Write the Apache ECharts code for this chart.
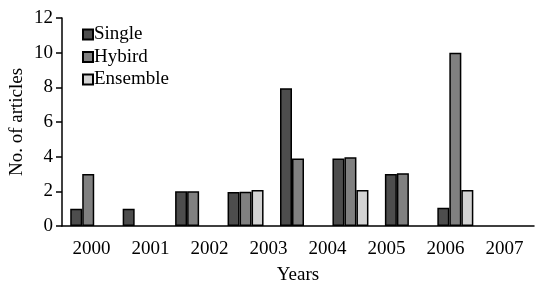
<!DOCTYPE html>
<html>
<head>
<meta charset="utf-8">
<script src="https://cdn.jsdelivr.net/npm/echarts@6/dist/echarts.min.js"></script>
<style>
  html, body { margin: 0; padding: 0; background: #fff; }
  #chart { width: 535px; height: 283px; }
</style>
</head>
<body>
<div id="chart"></div>
<script>
// axis labels (8) and bar slots (9, last one empty, like the original Excel chart)
var yearLabels = ['2000', '2001', '2002', '2003', '2004', '2005', '2006', '2007'];
var barSlots = ['s0', 's1', 's2', 's3', 's4', 's5', 's6', 's7', 's8'];

// null = no bar in that slot
var single   = [1, 1, 2, 1.96, 7.95, 3.9, 3, 1.05, null];
var hybird   = [3, null, 2, 1.98, 3.9, 3.96, 3.05, 10, null];
var ensemble = [null, null, null, 2.07, null, 2.07, null, 2.07, null];

var font = 'Liberation Serif';
var fs = 19;

var chart = echarts.init(document.getElementById('chart'));

function barSeries(name, data, color) {
  return {
    name: name,
    type: 'bar',
    xAxisIndex: 1,
    data: data,
    barWidth: 12,
    barGap: '0%',
    itemStyle: { color: color, borderColor: '#000', borderWidth: 1.5 }
  };
}

var option = {
  backgroundColor: '#fff',
  animation: false,
  textStyle: { fontFamily: font },
  grid: { left: 62, right: 1, top: 18, bottom: 57, outerBoundsMode: 'none', containLabel: false },
  legend: {
    orient: 'vertical',
    left: 82,
    top: 25,
    padding: 0,
    itemWidth: 10,
    itemHeight: 10,
    itemGap: 3.5,
    icon: 'rect',
    data: ['Single', 'Hybird', 'Ensemble'],
    textStyle: { fontFamily: font, fontSize: fs, color: '#000', lineHeight: 19, padding: [0, 0, 0, -4] }
  },
  xAxis: [{
    type: 'category',
    data: yearLabels,
    name: 'Years',
    nameLocation: 'middle',
    nameGap: 40,
    nameTextStyle: { fontFamily: font, fontSize: fs, color: '#000' },
    axisLine: { lineStyle: { color: '#000', width: 1.5 } },
    axisTick: { length: 7, lineStyle: { color: '#000', width: 1.5 } },
    axisLabel: { fontFamily: font, fontSize: fs, color: '#000', margin: 14 }
  }, {
    type: 'category',
    data: barSlots,
    show: false
  }],
  yAxis: {
    type: 'value',
    min: 0,
    max: 12,
    interval: 2,
    name: 'No. of articles',
    nameLocation: 'middle',
    nameGap: 35,
    nameRotate: 90,
    nameMoveOverlap: false,
    nameTextStyle: { fontFamily: font, fontSize: fs, color: '#000' },
    axisLine: { show: true, lineStyle: { color: '#000', width: 1.5 } },
    axisTick: { show: true, length: 6, lineStyle: { color: '#000', width: 1.5 } },
    axisLabel: { fontFamily: font, fontSize: fs, color: '#000', margin: 9 },
    splitLine: { show: false }
  },
  series: [
    barSeries('Single', single, '#4d4d4d'),
    barSeries('Hybird', hybird, '#808080'),
    barSeries('Ensemble', ensemble, '#d3d3d3')
  ]
};

chart.setOption(option);
</script>
</body>
</html>
